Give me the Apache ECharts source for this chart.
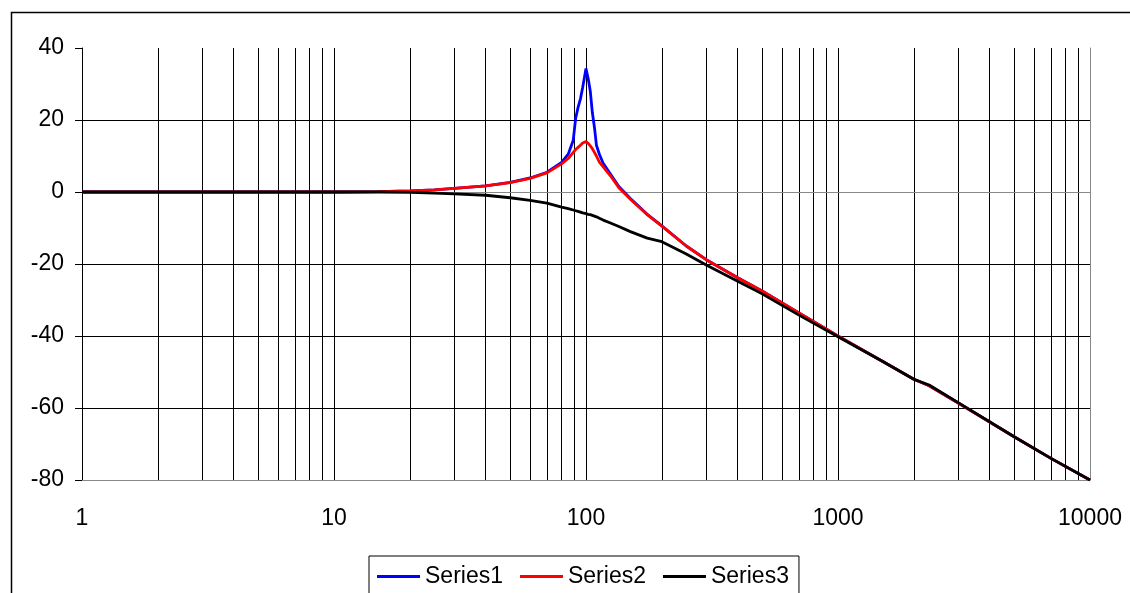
<!DOCTYPE html>
<html>
<head>
<meta charset="utf-8">
<script src="https://cdn.jsdelivr.net/npm/echarts@6/dist/echarts.min.js"></script>
<style>
    html, body { margin: 0; padding: 0; background: #fff; }
    #chart { width: 1130px; height: 593px; }
</style>
</head>
<body>
<div id="chart"></div>
<script>
// frequencies (x, log scale)
var freq = [1, 2, 5, 10, 15, 20, 25, 30, 40, 50, 60, 70, 80, 85, 89, 91, 93, 95, 97, 100, 102, 104, 106, 108, 110, 113, 117, 125, 135, 150, 175, 200, 250, 300, 400, 500, 700, 1000, 1500, 2000, 2300, 3000, 5000, 7000, 10000];

var series1 = [0, 0, 0, 0, 0.1, 0.3, 0.6, 1.0, 1.7, 2.7, 3.9, 5.5, 8.2, 10.5, 14.4, 20.5, 23.5, 25.8, 29, 34.3, 31.5, 28, 22, 18, 13, 10.5, 8, 5, 1.5, -1.8, -6.2, -9.4, -15.0, -18.8, -23.8, -27.5, -33.6, -40, -47, -52, -53.8, -58.6, -68, -74, -80];
var series2 = [0, 0, 0, 0, 0.1, 0.3, 0.6, 1.0, 1.7, 2.6, 3.8, 5.3, 7.8, 9.3, 11, 11.8, 12.4, 13, 13.6, 14.0, 13.5, 12.8, 12, 11, 10, 8.3, 7, 4.5, 1.2, -2, -6.3, -9.5, -15.0, -18.8, -23.8, -27.5, -33.6, -40, -47, -52, -53.8, -58.6, -68, -74, -80];
var series3 = [0, 0, 0, 0, 0, -0.1, -0.3, -0.5, -0.9, -1.6, -2.3, -3.1, -4.2, -4.6, -5.0, -5.2, -5.4, -5.6, -5.8, -6.0, -6.2, -6.3, -6.5, -6.7, -6.9, -7.3, -7.8, -8.6, -9.6, -11, -12.8, -13.8, -17.2, -20.3, -24.8, -28.3, -34.2, -40.2, -47, -52, -53.6, -58.5, -68, -74, -80];

var seriesNames = ['Series1', 'Series2', 'Series3'];
var minorGrid = [2, 3, 4, 5, 6, 7, 8, 9, 20, 30, 40, 50, 60, 70, 80, 90, 200, 300, 400, 500, 600, 700, 800, 900, 2000, 3000, 4000, 5000, 6000, 7000, 8000, 9000];

function pairs(vals) {
    var out = [];
    for (var i = 0; i < freq.length; i++) {
        out.push([freq[i], vals[i]]);
    }
    return out;
}

var font = 'Arial, "Liberation Sans", sans-serif';

var myChart = echarts.init(document.getElementById('chart'));
var option = {
    animation: false,
    backgroundColor: '#fff',
    textStyle: { fontFamily: font },
    graphic: [
        {
            type: 'rect',
            left: 9, top: 10,
            shape: { width: 1200, height: 700 },
            style: { fill: 'none', stroke: '#000', lineWidth: 1.5 },
            z: -10
        }
    ],
    grid: {
        left: 82,
        right: 40,
        top: 48,
        bottom: 113
    },
    legend: {
        data: seriesNames,
        left: 369,
        top: 556,
        padding: [9, 10, 20, 8],
        itemWidth: 43,
        itemHeight: 3,
        itemGap: 17,
        icon: 'rect',
        borderColor: '#000',
        borderWidth: 1,
        borderRadius: 0,
        textStyle: { fontSize: 23, color: '#000', fontFamily: font }
    },
    xAxis: [
        {
            type: 'log',
            logBase: 10,
            min: 1,
            max: 10000,
            axisLine: { onZero: false, lineStyle: { color: '#888', width: 1 } },
            axisTick: { show: false },
            axisLabel: {
                margin: 27, fontSize: 23, color: '#000', fontFamily: font,
                formatter: function (v) { return String(Math.round(v)); }
            },
            splitLine: { show: true, showMaxLine: false, lineStyle: { color: '#000', width: 1 } }
        },
        {
            type: 'log',
            logBase: 10,
            min: 1,
            max: 10000,
            position: 'top',
            axisLine: { show: true, lineStyle: { color: '#888', width: 1 } },
            axisTick: { show: false },
            axisLabel: { show: false },
            splitLine: { show: false }
        }
    ],
    yAxis: [
        {
            type: 'value',
            min: -80,
            max: 40,
            interval: 20,
            axisLine: { show: true, onZero: false, lineStyle: { color: '#000', width: 1 } },
            axisTick: { show: true, length: 7, lineStyle: { color: '#000' } },
            axisLabel: { margin: 18, fontSize: 23, color: '#000', fontFamily: font },
            splitLine: { show: true, showMinLine: false, showMaxLine: false, lineStyle: { color: '#000', width: 1 } }
        },
        {
            type: 'value',
            min: -80,
            max: 40,
            interval: 20,
            position: 'right',
            axisLine: { show: true, onZero: false, lineStyle: { color: '#888', width: 1 } },
            axisTick: { show: false },
            axisLabel: { show: false },
            splitLine: { show: false }
        }
    ],
    series: [
        {
            name: 'Series1',
            type: 'line',
            data: pairs(series1),
            showSymbol: false,
            symbol: 'none',
            color: '#0000FF',
            lineStyle: { color: '#0000FF', width: 2.8 },
            markLine: {
                silent: true,
                symbol: 'none',
                label: { show: false },
                lineStyle: { color: '#000', width: 1, type: 'solid' },
                data: minorGrid.map(function (v) { return { xAxis: v }; }),
                z: 0
            }
        },
        {
            name: 'Series2',
            type: 'line',
            data: pairs(series2),
            showSymbol: false,
            symbol: 'none',
            color: '#FF0000',
            lineStyle: { color: '#FF0000', width: 2.8 }
        },
        {
            name: 'Series3',
            type: 'line',
            data: pairs(series3),
            showSymbol: false,
            symbol: 'none',
            color: '#000000',
            lineStyle: { color: '#000000', width: 2.8 }
        }
    ]
};
myChart.setOption(option);
</script>
</body>
</html>
